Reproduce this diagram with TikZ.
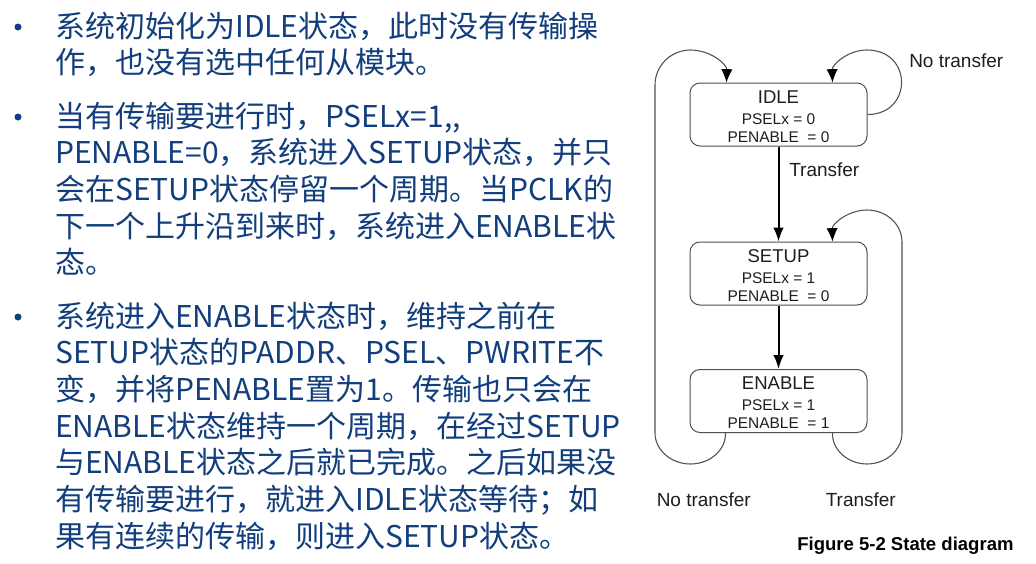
\documentclass[tikz,border=0pt]{standalone}
\usepackage{fontspec}
\setmainfont{Liberation Sans}
\newfontfamily\cjk{Noto Sans CJK SC}
\usepackage{xcolor}
\usepackage{tikz}
\usetikzlibrary{arrows.meta}
\usetikzlibrary{calc}
\usetikzlibrary{positioning}
\definecolor{textblue}{RGB}{18,62,125}
\definecolor{linegray}{RGB}{80,80,80}
\definecolor{labelblack}{RGB}{30,30,30}
\tikzset{para/.style={font=\cjk\fontsize{22.5}{27.5}\selectfont, text=textblue, align=left, inner sep=0pt, anchor=base west}}
\tikzset{statebox/.style={draw=linegray, line width=0.75pt, rounded corners=7.5pt, minimum width=132.75pt, minimum height=47.25pt, inner sep=0pt}}
\tikzset{stname/.style={font=\fontsize{13.9}{16}\selectfont, text=labelblack, inner sep=0pt, anchor=base}}
\tikzset{stval/.style={font=\fontsize{11.6}{14}\selectfont, text=labelblack, inner sep=0pt, anchor=base}}
\tikzset{lbl/.style={font=\fontsize{14.25}{17}\selectfont, text=labelblack, inner sep=0pt, anchor=base west}}
\tikzset{trans/.style={draw=black, line width=1.5pt, -{Latex[length=10.5pt,width=8pt]}}}
\tikzset{backedge/.style={draw=linegray, line width=0.8pt, -{Latex[length=10pt,width=8.5pt,color=black]}}}

\begin{document}
\begin{tikzpicture}[x=0.75pt,y=-0.75pt]
{
\useasboundingbox[fill=white] (0,0) rectangle (1036,564);
% bullet points
\foreach \y in {27,117,317}
  \fill[textblue] (18,\y) circle (3.5);
% the base of each paragraph is its last line
\node[para] (para1) at (55,73.7) {系统初始化为IDLE状态，此时没有传输操\\作，也没有选中任何从模块。};
\node[para] (para2) at (55,273.7) {当有传输要进行时，PSELx=1,,\\PENABLE=0，系统进入SETUP状态，并只\\会在SETUP状态停留一个周期。当PCLK的\\下一个上升沿到来时，系统进入ENABLE状\\态。};
\node[para] (para3) at (55,547) {系统进入ENABLE状态时，维持之前在\\SETUP状态的PADDR、PSEL、PWRITE不\\变，并将PENABLE置为1。传输也只会在\\ENABLE状态维持一个周期，在经过SETUP\\与ENABLE状态之后就已完成。之后如果没\\有传输要进行，就进入IDLE状态等待；如\\果有连续的传输，则进入SETUP状态。};
% states
\foreach \st/\yc/\sel/\en in {IDLE/114.5/0/0, SETUP/273.5/1/0, ENABLE/401/1/1}
{
  \node[statebox] (\st) at (778.5,\yc) {};
  \node[stname] (\st-name) at ($(\st.north)+(0,20.6)$) {\st};
  \node[stval] (\st-sel) at ($(\st.north)+(0,41.5)$) {PSELx = \sel};
  \node[stval] (\st-en) at ($(\st.north)+(0,59.5)$) {PENABLE~ = \en};
}
\draw[trans] (IDLE) -- (SETUP);
\draw[trans] (SETUP) -- (ENABLE);
% loops
\coordinate (idle-in-r) at ($(IDLE.north east)+(-35,0)$);
\coordinate (idle-in-l) at ($(IDLE.north west)+(37,0)$);
\coordinate (setup-in) at ($(SETUP.north east)+(-35,0)$);
\coordinate (enable-out-l) at ($(ENABLE.south west)+(36,0)$);
\coordinate (enable-out-r) at ($(ENABLE.south east)+(-35,0)$);
\draw[backedge] (IDLE.east) .. controls (913,114.5) and (913,50) .. (867,50) .. controls (847.7,50) and (832,64.8) .. (idle-in-r);
\draw[backedge] (enable-out-l) .. controls (726,450) and (710,464) .. (690.5,464) .. controls (671,464) and (655,450) .. (655,433) -- (655,85) .. controls (655,65.6) and (671,50) .. (690.5,50) .. controls (710,50) and (727,64) .. (idle-in-l);
\draw[backedge] (enable-out-r) .. controls (832,450) and (848,464) .. (867,464) .. controls (886,464) and (902,450) .. (902,433) -- (902,242) .. controls (902,224) and (886,210) .. (867,210) .. controls (848,210) and (832,224) .. (setup-in);
% labels
\node[lbl] (lbl-idle) at (909,67.5) {No transfer};
\node[lbl] (lbl-xfer) at (789,176.5) {Transfer};
\node[lbl] (lbl-back) at (656.5,506) {No transfer};
\node[lbl] (lbl-next) at (825.5,506) {Transfer};
\node[lbl, font=\bfseries\fontsize{13.9}{16}\selectfont, text=black] (caption) at (797,550) {Figure 5-2 State diagram};
}
\end{tikzpicture}
\end{document}
